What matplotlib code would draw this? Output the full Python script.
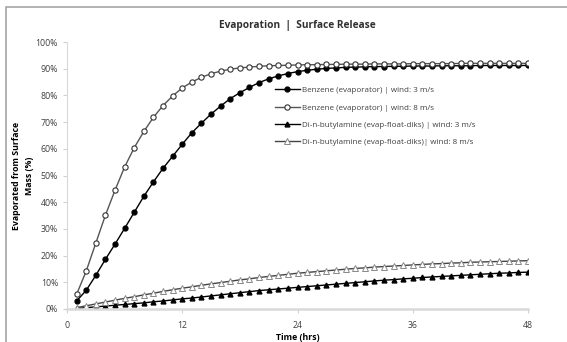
import numpy as np
import matplotlib.pyplot as plt
from matplotlib.patches import Rectangle
from matplotlib.ticker import PercentFormatter

plt.rcParams['font.family'] = ['Open Sans', 'DejaVu Sans']

# time in hours, one point per hour
hours = np.arange(1, 49)

benzene_3 = [3, 7, 12.6, 18.6, 24.3, 30.2, 36.2, 42.2, 47.6, 52.7, 57.2, 61.7,
             66, 69.6, 73, 76, 78.8, 81, 83, 84.8, 86.2, 87.3, 88.2, 88.9,
             89.4, 89.8, 90.1, 90.3, 90.5, 90.6, 90.7, 90.8, 90.8, 90.9, 90.9, 91,
             91, 91, 91.1, 91.1, 91.1, 91.1, 91.2, 91.2, 91.2, 91.2, 91.2, 91.2]
benzene_8 = [5.5, 14.2, 24.7, 35.1, 44.5, 53.2, 60.4, 66.5, 71.8, 76.2, 79.8, 82.8,
             85, 86.8, 88.1, 89.1, 89.8, 90.3, 90.6, 90.9, 91.1, 91.2, 91.3, 91.4,
             91.5, 91.5, 91.6, 91.6, 91.7, 91.7, 91.7, 91.8, 91.8, 91.8, 91.8, 91.9,
             91.9, 91.9, 91.9, 91.9, 92, 92, 92, 92, 92, 92, 92, 92]
dnba_3 = [0.2, 0.5, 0.8, 1.1, 1.4, 1.7, 2.0, 2.3, 2.7, 3.0, 3.4, 3.8,
          4.1, 4.5, 4.9, 5.3, 5.7, 6.1, 6.5, 6.9, 7.2, 7.5, 7.8, 8.1,
          8.4, 8.7, 9.0, 9.3, 9.6, 9.9, 10.2, 10.5, 10.8, 11.0, 11.3, 11.5,
          11.8, 12.0, 12.2, 12.4, 12.6, 12.8, 13.0, 13.2, 13.4, 13.5, 13.7, 13.8]
dnba_8 = [0.5, 1.2, 1.9, 2.6, 3.3, 4.0, 4.6, 5.3, 5.9, 6.6, 7.2, 7.8,
          8.3, 8.9, 9.4, 9.9, 10.4, 10.9, 11.3, 11.8, 12.2, 12.6, 13.0, 13.4,
          13.7, 14.0, 14.3, 14.6, 14.9, 15.2, 15.4, 15.7, 15.9, 16.1, 16.3, 16.5,
          16.7, 16.9, 17.0, 17.2, 17.3, 17.5, 17.6, 17.7, 17.8, 17.9, 18.0, 18.1]

labels = ['Benzene (evaporator) | wind: 3 m/s',
          'Benzene (evaporator) | wind: 8 m/s',
          'Di-n-butylamine (evap-float-diks) | wind: 3 m/s',
          'Di-n-butylamine (evap-float-diks)| wind: 8 m/s']

fig = plt.figure(figsize=(5.67, 3.42), dpi=100)
ax = fig.add_axes([67 / 567, 33 / 342, 461 / 567, 267 / 342])

# chart frame like Excel
fig.patches.append(Rectangle((6 / 567, -0.1), 1.2, (342 - 7) / 342 + 0.1,
                             transform=fig.transFigure, fill=False,
                             edgecolor='#a6a6a6', lw=1.2))

ax.plot(hours, np.array(benzene_3) / 100, '-o', color='black', lw=1,
        ms=3.5, mfc='black', mec='black', label=labels[0])
ax.plot(hours, np.array(benzene_8) / 100, '-o', color='#555555', lw=1,
        ms=3.8, mfc='white', mec='#333333', mew=0.8, label=labels[1])
ax.plot(hours, np.array(dnba_3) / 100, '-^', color='black', lw=1,
        ms=3.5, mfc='black', mec='black', label=labels[2])
ax.plot(hours, np.array(dnba_8) / 100, '-^', color='#444444', lw=1,
        ms=3.8, mfc='white', mec='#888888', mew=0.7, label=labels[3])

ax.set_xlim(0, 48)
ax.set_ylim(0, 1)
ax.set_xticks([0, 12, 24, 36, 48])
ax.set_yticks(np.arange(0, 1.01, 0.1))
ax.yaxis.set_major_formatter(PercentFormatter(1, decimals=0))

for s in ['top', 'right']:
    ax.spines[s].set_visible(False)
ax.spines['left'].set_color('#d9d9d9')
ax.spines['bottom'].set_color('#d9d9d9')
ax.spines['bottom'].set_linewidth(1.8)
ax.tick_params(axis='both', colors='#d0d0d0', labelcolor='#404040',
               labelsize=6.3, length=3, width=0.8)
ax.tick_params(axis='x', pad=6)

ax.set_title('Evaporation  |  Surface Release', fontsize=7.3,
             fontweight='bold', color='#303030', pad=10)
ax.set_xlabel('Time (hrs)', fontsize=6.3, fontweight='bold', labelpad=2)
ax.set_ylabel('Evaporated from Surface\nMass (%)', fontsize=6.3,
              fontweight='bold', linespacing=1.5)
ax.yaxis.set_label_coords(-0.072, 0.5)

ax.legend(loc='upper left', bbox_to_anchor=(0.445, 0.845), frameon=False,
          fontsize=5.8, labelcolor='#404040', handlelength=3, handletextpad=0.3,
          labelspacing=1.2, borderaxespad=0)

fig.savefig('out.png', dpi=100)
